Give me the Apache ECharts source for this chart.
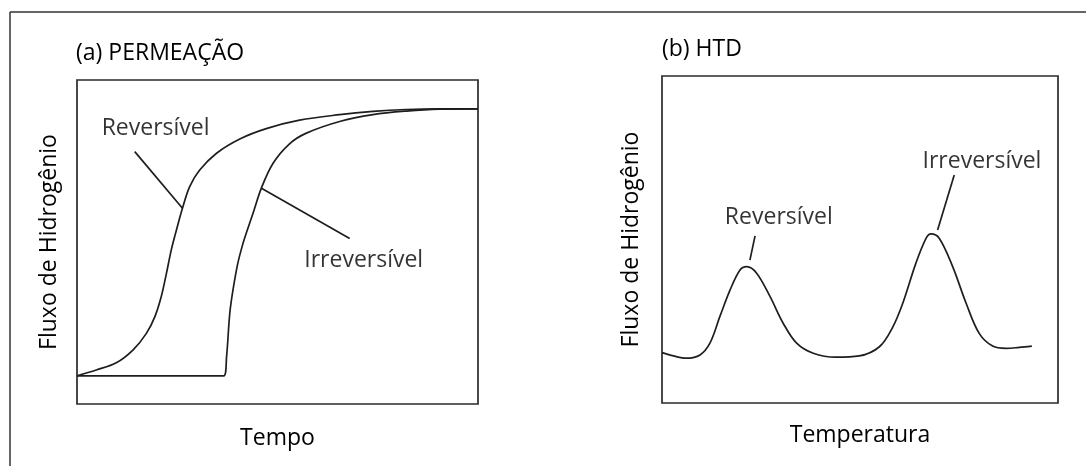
<!DOCTYPE html>
<html>
<head>
<meta charset="utf-8">
<script src="https://cdn.jsdelivr.net/npm/echarts@6/dist/echarts.min.js"></script>
<style>
  html, body { margin: 0; padding: 0; background: #fff; }
  #chart { width: 1086px; height: 466px; }
</style>
</head>
<body>
<div id="chart"></div>
<script>
// ---------- Data (arbitrary units, 0-100) ----------
// Panel (a) PERMEAÇÃO
const revTime = [0, 4.8, 9.8, 14.0, 17.3, 19.4, 21.0, 22.3, 23.5, 24.8, 26.3, 28.1, 30.6, 34.8, 40.6, 47.2, 55.5, 65.5, 73.8, 82.1, 90.4, 100];
const revFlux = [8.7, 10.5, 12.7, 16.7, 21.8, 26.9, 33.1, 40.3, 47.5, 53.7, 60.4, 67.1, 72.2, 77.4, 81.8, 85.0, 87.6, 89.3, 90.3, 90.9, 91.1, 91.1];
const irrTime = [0, 36.6, 37.3, 38.1, 38.9, 40.1, 41.4, 42.2, 43.9, 46.0, 48.9, 53.0, 57.2, 65.5, 73.8, 82.1, 90.4, 100];
const irrFlux = [8.7, 8.7, 14.6, 28.0, 35.2, 43.4, 49.6, 52.7, 58.9, 66.7, 74.3, 80.3, 83.6, 87.2, 89.3, 90.4, 91.0, 91.1];
// Panel (b) HTD
const htdTemp = [0, 2.9, 6.2, 9.6, 12.1, 14.6, 17.2, 19.7, 21.4, 23.9, 27.3, 30.6, 34.0, 38.2, 43.9, 49.8, 54.9, 58.3, 60.8, 64.1, 66.7, 67.9, 70.0, 73.4, 76.8, 80.1, 83.5, 86.9, 90.2, 93.4];
const htdFlux = [15.4, 14.4, 13.7, 14.7, 18.3, 26.4, 34.6, 40.7, 41.7, 39.7, 32.5, 24.4, 18.3, 15.2, 14.0, 14.4, 17.2, 23.3, 30.5, 42.7, 50.4, 51.7, 50.4, 41.7, 30.5, 21.3, 17.4, 16.7, 17.0, 17.4];

// Annotations: [x, y] in data units
const titles = ['(a) PERMEAÇÃO', '(b) HTD'];
const axisNamesA = ['Tempo', 'Fluxo de Hidrogênio'];
const axisNamesB = ['Temperatura', 'Fluxo de Hidrogênio'];
const labelsA = [{ name: 'Reversível', at: [19.6, 85.0] }, { name: 'Irreversível', at: [71.5, 44.4] }];
const leadersA = [[[14.4, 77.9], [26.3, 60.4]], [[46.0, 66.6], [68.0, 51.1]]];
const labelsB = [{ name: 'Reversível', at: [29.5, 56.7] }, { name: 'Irreversível', at: [80.8, 74.0] }];
const leadersB = [[[23.5, 51.1], [22.2, 43.7]], [[73.8, 69.7], [69.6, 52.9]]];

const zip = (xs, ys) => xs.map((x, i) => [x, ys[i]]);

const FONT = '"Open Sans", Lato, sans-serif';
const FS = 23;
const TXT = '#000';
const LINE = '#1e1e1e';

function xAx(gridIndex, name, gap) {
  return {
    type: 'value', gridIndex, min: 0, max: 100,
    axisLine: { show: false }, axisTick: { show: false }, axisLabel: { show: false }, splitLine: { show: false },
    name, nameLocation: 'middle', nameGap: gap,
    nameTextStyle: { fontFamily: FONT, fontSize: FS, color: TXT }
  };
}
function yAx(gridIndex, name, gap) {
  return {
    type: 'value', gridIndex, min: 0, max: 100,
    axisLine: { show: false }, axisTick: { show: false }, axisLabel: { show: false }, splitLine: { show: false },
    name, nameLocation: 'middle', nameGap: gap,
    nameTextStyle: { fontFamily: FONT, fontSize: FS, color: TXT }
  };
}
function curve(idx, data) {
  return {
    type: 'line', xAxisIndex: idx, yAxisIndex: idx, data, smooth: 0.35,
    showSymbol: false, symbol: 'none', lineStyle: { color: LINE, width: 1.7 }, silent: true
  };
}
function leader(idx, seg) {
  return {
    type: 'line', xAxisIndex: idx, yAxisIndex: idx, data: seg, symbol: 'none',
    lineStyle: { color: LINE, width: 1.7 }, silent: true
  };
}
function textLabels(idx, labels) {
  return {
    type: 'scatter', xAxisIndex: idx, yAxisIndex: idx, symbolSize: 0, silent: true,
    data: labels.map(l => ({ name: l.name, value: l.at })),
    label: { show: true, position: 'inside', formatter: '{b}', fontFamily: FONT, fontSize: FS, color: TXT }
  };
}

const chart = echarts.init(document.getElementById('chart'), null, { renderer: 'canvas' });
chart.setOption({
  animation: false,
  backgroundColor: '#fff',
  title: [
    { text: titles[0], left: 71, top: 37, textStyle: { fontFamily: FONT, fontSize: FS, fontWeight: 'normal', color: TXT } },
    { text: titles[1], left: 657, top: 33, textStyle: { fontFamily: FONT, fontSize: FS, fontWeight: 'normal', color: TXT } }
  ],
  grid: [
    { left: 77, right: 608, top: 80, bottom: 62, show: true, borderColor: '#2a2a2a', borderWidth: 1.7, backgroundColor: 'transparent' },
    { left: 662, right: 28, top: 76, bottom: 63, show: true, borderColor: '#2a2a2a', borderWidth: 1.7, backgroundColor: 'transparent' }
  ],
  xAxis: [xAx(0, axisNamesA[0], 23), xAx(1, axisNamesB[0], 21)],
  yAxis: [yAx(0, axisNamesA[1], 16), yAx(1, axisNamesB[1], 19)],
  graphic: [
    { type: 'line', shape: { x1: 10, y1: 12, x2: 10, y2: 466 }, style: { stroke: '#333', lineWidth: 1.5 } },
    { type: 'line', shape: { x1: 10, y1: 12, x2: 1086, y2: 12 }, style: { stroke: '#333', lineWidth: 1.5 } }
  ],
  series: [
    curve(0, zip(revTime, revFlux)),
    curve(0, zip(irrTime, irrFlux)),
    leader(0, leadersA[0]),
    leader(0, leadersA[1]),
    textLabels(0, labelsA),
    curve(1, zip(htdTemp, htdFlux)),
    leader(1, leadersB[0]),
    leader(1, leadersB[1]),
    textLabels(1, labelsB)
  ]
});
</script>
</body>
</html>
